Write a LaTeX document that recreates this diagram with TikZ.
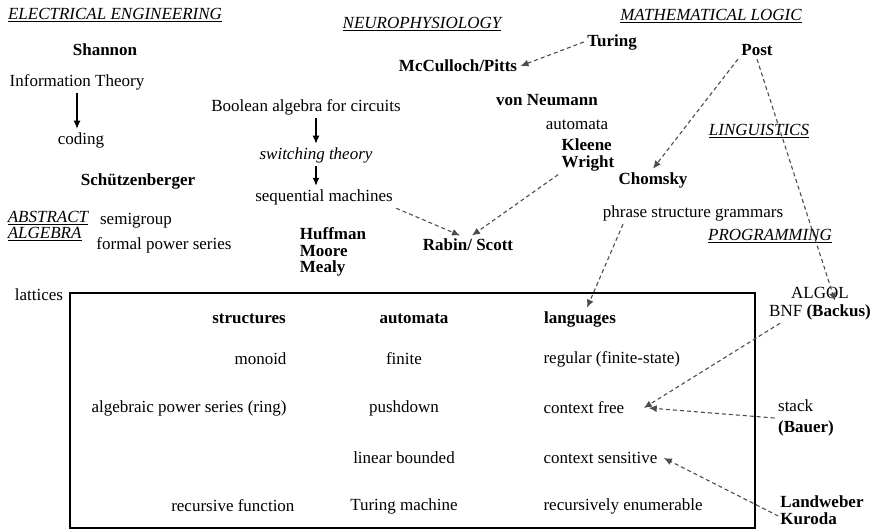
\documentclass[tikz,border=0pt]{standalone}
\usepackage{fontspec}
\setmainfont{Liberation Serif}
\usepackage{tikz}
\usetikzlibrary{shapes,arrows,arrows.meta,positioning}
\tikzstyle{field} = [font=\fontsize{17}{16.5}\selectfont\itshape, align=left]
\tikzstyle{person} = [font=\fontsize{17}{16.5}\selectfont\bfseries, align=left]
\tikzstyle{topic} = [font=\fontsize{17}{18}\selectfont]
\tikzstyle{colhead} = [font=\fontsize{17}{18}\selectfont\bfseries]
\tikzstyle{arrow} = [line width=1.2pt,-{Latex[length=8pt,width=7pt]}]
\tikzstyle{dasharrow} = [line width=1.1pt,dash pattern=on 4pt off 3pt,black!70,-{Latex[length=8pt,width=7pt]}]

\begin{document}
\begin{tikzpicture}[x=1pt,y=-1pt]
\useasboundingbox (0,0) rectangle (877,531);

%% Fields
\node [field] (ee) at (115,15) {\underline{ELECTRICAL ENGINEERING}};
\node [field] (neuro) at (422,24) {\underline{NEUROPHYSIOLOGY}};
\node [field] (logic) at (711,16) {\underline{MATHEMATICAL LOGIC}};
\node [field] (ling) at (759,131) {\underline{LINGUISTICS}};
\node [field] (prog) at (770,236) {\underline{PROGRAMMING}};
\node [field] (alg) at (48,226) {\underline{ABSTRACT}\\\underline{ALGEBRA}};

%% People
\node [person] (shannon) at (105,50) {Shannon};
\node [person] (schutz) at (138,181) {Schützenberger};
\node [person] (turing) at (612,42) {Turing};
\node [person] (mcculloch) at (458,66) {McCulloch/Pitts};
\node [person] (post) at (757,50) {Post};
\node [person] (neumann) at (547,100) {von Neumann};
\node [person] (kleene) at (588,155) {Kleene\\Wright};
\node [person] (chomsky) at (653,180) {Chomsky};
\node [person] (huffman) at (333,252) {Huffman\\Moore\\Mealy};
\node [person] (rabin) at (468,245) {Rabin/ Scott};

%% Topics
\node [topic] (info) at (77,82) {Information Theory};
\node [topic] (coding) at (81,140) {coding};
\node [topic] (boolean) at (306,107) {Boolean algebra for circuits};
\node [topic] (switching) at (316,155) {\itshape switching theory};
\node [topic] (sequential) at (324,197) {sequential machines};
\node [topic] (semigroup) at (136,221) {semigroup};
\node [topic] (fps) at (164,245) {formal power series};
\node [topic] (lattices) at (39,295) {lattices};
\node [topic] (automata) at (577,125) {automata};
\node [topic] (phrase) at (693,213) {phrase structure grammars};
\node [topic] (algol) at (820,293) {ALGOL};
\node [topic] (bnf) at (820,312) {BNF \textbf{(Backus)}};
\node [topic, align=left] (stack) at (806,418) {stack\\[3pt]\textbf{(Bauer)}};
\node [person, inner sep=2pt] (landweber) at (822,510) {Landweber\\[1pt]Kuroda};

%% The table
\draw [line width=2pt] (70,293) rectangle (755,528);
\node [colhead] (structures) at (249,319) {structures};
\node [colhead] (automataH) at (414,319) {automata};
\node [colhead] (languages) at (580,319) {languages};

\node [topic, anchor=east] (monoid) at (290,359) {monoid};
\node [topic, anchor=east] (aps) at (290,408) {algebraic power series (ring)};
\node [topic, anchor=east] (recfun) at (298,506) {recursive function};

\node [topic] (finite) at (404,359) {finite};
\node [topic] (pushdown) at (404,408) {pushdown};
\node [topic] (lba) at (404,458) {linear bounded};
\node [topic] (tm) at (404,506) {Turing machine};

\node [topic, anchor=west] (regular) at (540,359) {regular (finite-state)};
\node [topic, anchor=west] (cf) at (540,408) {context free};
\node [topic, anchor=west] (cs) at (540,458) {context sensitive};
\node [topic, anchor=west] (re) at (540,506) {recursively enumerable};

%% Solid arrows
\draw [arrow] (info.south) -- (info.south |- coding.north);
\draw [arrow] (boolean.south -| switching) -- (switching.north);
\draw [arrow] (switching.south) -- (switching.south |- sequential.north);

%% Dashed arrows
\draw [dasharrow] (turing.west) -- (mcculloch.east);
\draw [dasharrow] (sequential.south east) -- ([xshift=-8pt]rabin.north);
\draw [dasharrow] (kleene.south west) -- ([xshift=4pt]rabin.north);
\draw [dasharrow] (post.south west) -- (chomsky.north);
\draw [dasharrow] (post.south) -- ([xshift=15pt]bnf.north);
\draw [dasharrow] ([xshift=-70pt]phrase.south) -- ([xshift=7pt]languages.north);
\draw [dasharrow] ([xshift=-40pt]bnf.south) -- ([xshift=16pt]cf.east);
\draw [dasharrow] (stack.west) -- ([xshift=21pt]cf.east);
\draw [dasharrow] ([yshift=-6pt]landweber.west) -- ([xshift=3pt]cs.east);

\end{tikzpicture}
\end{document}
